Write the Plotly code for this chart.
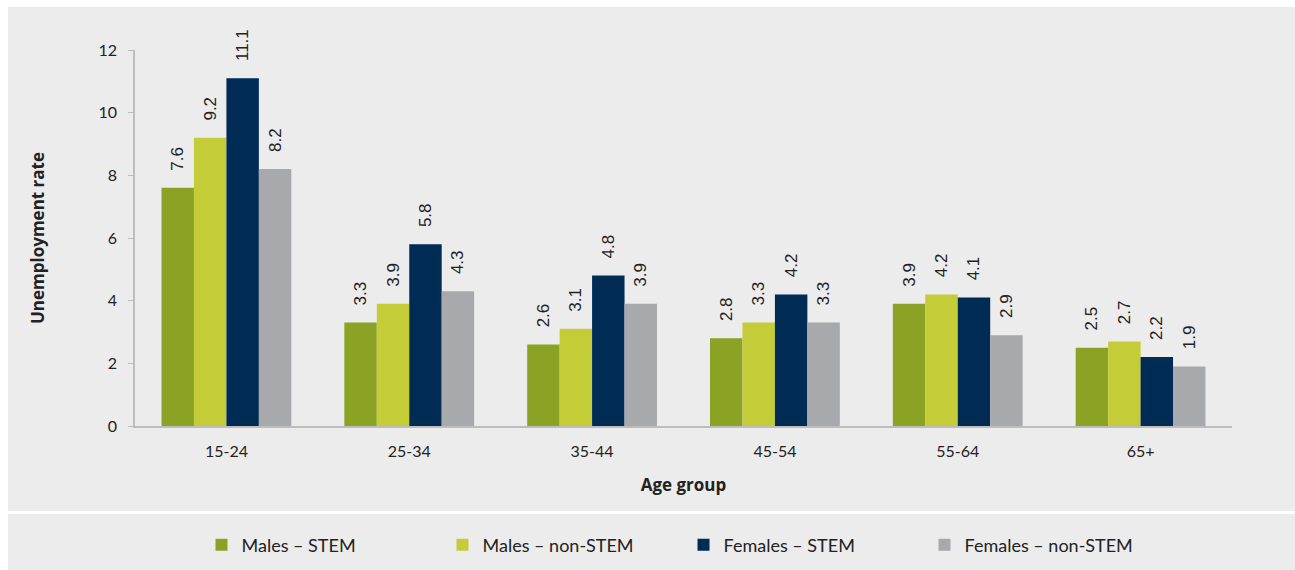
import plotly.graph_objects as go

age_groups = ["15-24", "25-34", "35-44", "45-54", "55-64", "65+"]
series_names = ["Males – STEM", "Males – non-STEM", "Females – STEM", "Females – non-STEM"]
males_stem = [7.6, 3.3, 2.6, 2.8, 3.9, 2.5]
males_non_stem = [9.2, 3.9, 3.1, 3.3, 4.2, 2.7]
females_stem = [11.1, 5.8, 4.8, 4.2, 4.1, 2.2]
females_non_stem = [8.2, 4.3, 3.9, 3.3, 2.9, 1.9]
y_ticks = [0, 2, 4, 6, 8, 10, 12]

colors = ["#8ba224", "#c4cc38", "#002b54", "#a8a9ad"]
FONT = "Lato"
LABEL_FONT = "Liberation Sans"
TITLE_FONT = "Open Sans"
TXT = "#222222"

fig = go.Figure()
for name, vals, col in zip(series_names, [males_stem, males_non_stem, females_stem, females_non_stem], colors):
    fig.add_trace(go.Bar(
        x=age_groups, y=vals, name=name,
        marker=dict(color=col, line=dict(width=0)),
        text=["\u00a0\u00a0\u00a0" + f"{v:.1f}" for v in vals],
        textposition="outside", textangle=-90, cliponaxis=False,
        constraintext="none",
        textfont=dict(family=LABEL_FONT, size=17, color=TXT),
    ))

W, H = 1295, 570
L, R, T, B = 135, 63, 50, 144
pw, ph = W - L - R, H - T - B
def px_x(px):
    return (px - L) / pw
def px_y(py):
    return (H - B - py) / ph

shapes = [
    dict(type="rect", xref="paper", yref="paper", x0=-0.5, x1=1.5, y0=px_y(7), y1=px_y(-20),
         fillcolor="white", line=dict(width=0), layer="below"),
    dict(type="rect", xref="paper", yref="paper", x0=px_x(-20), x1=px_x(8), y0=-1, y1=2,
         fillcolor="white", line=dict(width=0), layer="below"),
    dict(type="rect", xref="paper", yref="paper", x0=px_x(8), x1=1.5, y0=px_y(514), y1=px_y(511),
         fillcolor="white", line=dict(width=0), layer="below"),
]

fig.update_layout(
    width=W, height=H,
    margin=dict(l=L, r=R, t=T, b=B, pad=0, autoexpand=False),
    paper_bgcolor="#ececec", plot_bgcolor="#ececec",
    barmode="group", bargap=0.29, bargroupgap=0,
    font=dict(family=FONT, size=16, color=TXT),
    shapes=shapes,
    showlegend=True,
    legend=dict(orientation="h", x=0.5, xanchor="center", y=px_y(545), yanchor="middle",
                font=dict(family=FONT, size=18, color=TXT),
                entrywidth=196, entrywidthmode="pixels", bgcolor="rgba(0,0,0,0)"),
    xaxis=dict(
        showline=True, linecolor="#bdbdbd", linewidth=2,
        ticks="", showgrid=False, zeroline=False,
        tickfont=dict(family=FONT, size=16, color=TXT),
        ticklabelstandoff=10,
        title=dict(text="<b>Age group</b>", font=dict(family=TITLE_FONT, size=17, color=TXT), standoff=20),
    ),
    yaxis=dict(
        range=[0, 12], tickvals=y_ticks, ticktext=[str(t) for t in y_ticks],
        showline=True, linecolor="#bdbdbd", linewidth=1.5,
        ticks="outside", ticklen=5, tickcolor="#bdbdbd", tickwidth=1,
        showgrid=False, zeroline=False,
        tickfont=dict(family=FONT, size=16, color=TXT),
        ticklabelstandoff=8,
        title=dict(text="<b>Unemployment rate</b>", font=dict(family=TITLE_FONT, size=17, color=TXT), standoff=50),
    ),
)

fig.write_html("out.html")
